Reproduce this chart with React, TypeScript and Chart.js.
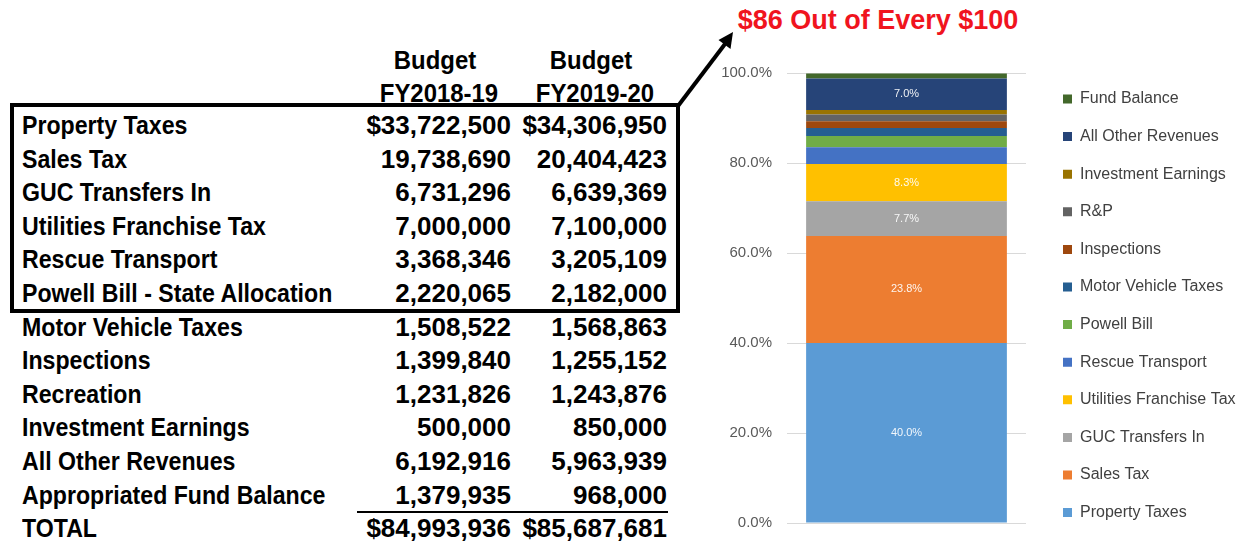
import React, { useEffect, useRef } from "react";
import { Chart, registerables } from "chart.js";

Chart.register(...registerables);

// ---------- chart data ----------
const categories = ["FY2019-20"];
const seriesNames = [
  "Property Taxes",
  "Sales Tax",
  "GUC Transfers In",
  "Utilities Franchise Tax",
  "Rescue Transport",
  "Powell Bill",
  "Motor Vehicle Taxes",
  "Inspections",
  "R&P",
  "Investment Earnings",
  "All Other Revenues",
  "Fund Balance",
];
const seriesValues = [40.0, 23.8, 7.7, 8.3, 3.7, 2.5, 1.8, 1.5, 1.5, 1.0, 7.0, 1.1];
const seriesColors = [
  "#5B9BD5",
  "#ED7D31",
  "#A5A5A5",
  "#FFC000",
  "#4472C4",
  "#70AD47",
  "#255E91",
  "#9E480E",
  "#636363",
  "#997300",
  "#264478",
  "#43682B",
];
const yTickValues = [0, 20, 40, 60, 80, 100];
const chartTitle = "$86 Out of Every $100";

// ---------- table data ----------
const headerTop = ["Budget", "Budget"];
const headerBottom = ["FY2018-19", "FY2019-20"];
const rowLabels = [
  "Property Taxes",
  "Sales Tax",
  "GUC Transfers In",
  "Utilities Franchise Tax",
  "Rescue Transport",
  "Powell Bill - State Allocation",
  "Motor Vehicle Taxes",
  "Inspections",
  "Recreation",
  "Investment Earnings",
  "All Other Revenues",
  "Appropriated Fund Balance",
  "TOTAL",
];
const budget1819 = [
  "$33,722,500",
  "19,738,690",
  "6,731,296",
  "7,000,000",
  "3,368,346",
  "2,220,065",
  "1,508,522",
  "1,399,840",
  "1,231,826",
  "500,000",
  "6,192,916",
  "1,379,935",
  "$84,993,936",
];
const budget1920 = [
  "$34,306,950",
  "20,404,423",
  "6,639,369",
  "7,100,000",
  "3,205,109",
  "2,182,000",
  "1,568,863",
  "1,255,152",
  "1,243,876",
  "850,000",
  "5,963,939",
  "968,000",
  "$85,687,681",
];

const FONT = "'Liberation Sans', Arial, sans-serif";
const CANVAS_W = 542;
const CANVAS_H = 544;
const CHART_RIGHT = 326;
const LEGEND_PAD = 21.6;
const LEGEND_BOX_X = 363;
const LEGEND_TOP = 66;
const LEGEND_BOTTOM = 545.6;

const legendShiftPlugin = {
  id: "legendShift",
  afterInit(chart: any) {
    const lg = chart.legend;
    if (lg && !lg.__patched) {
      const orig = lg.fit.bind(lg);
      lg.fit = function () {
        this.maxHeight = CANVAS_H;
        orig();
        this.width = CANVAS_W - CHART_RIGHT;
      };
      lg.__patched = true;
    }
  },
  afterLayout(chart: any) {
    const lg = chart.legend;
    if (lg) {
      lg.left = LEGEND_BOX_X - LEGEND_PAD;
      lg.top = LEGEND_TOP;
      lg.bottom = LEGEND_BOTTOM;
    }
  },
};

const dataLabelPlugin = {
  id: "segLabels",
  afterDatasetsDraw(chart: any) {
    const ctx = chart.ctx;
    ctx.save();
    ctx.font = `11px ${FONT}`;
    ctx.fillStyle = "rgba(255,255,255,0.92)";
    ctx.textAlign = "center";
    ctx.textBaseline = "middle";
    chart.data.datasets.forEach((ds: any, i: number) => {
      const meta = chart.getDatasetMeta(i);
      meta.data.forEach((el: any, j: number) => {
        const v = ds.data[j];
        if (v >= 5) {
          ctx.fillText(v.toFixed(1) + "%", el.x, (el.y + el.base) / 2);
        }
      });
    });
    ctx.restore();
  },
};

function BudgetChart() {
  const ref = useRef<HTMLCanvasElement | null>(null);
  useEffect(() => {
    if (!ref.current) return;
    const chart = new Chart(ref.current, {
      type: "bar",
      data: {
        labels: categories,
        datasets: seriesNames.map((name, i) => ({
          label: name,
          data: [seriesValues[i]],
          backgroundColor: seriesColors[i],
          borderWidth: 0,
          barPercentage: 0.84,
          categoryPercentage: 1,
        })),
      },
      options: {
        responsive: false,
        animation: false,
        layout: { padding: { top: 73, bottom: 21, left: 0, right: 0 } },
        plugins: {
          legend: {
            position: "right",
            reverse: true,
            labels: {
              boxWidth: 9,
              boxHeight: 9,
              padding: LEGEND_PAD,
              color: "#404040",
              font: { family: FONT, size: 16 },
            },
          },
          tooltip: { enabled: false },
          title: { display: false },
        },
        scales: {
          x: {
            stacked: true,
            display: false,
          },
          y: {
            stacked: true,
            min: 0,
            max: 100,
            afterBuildTicks: (scale: any) => {
              scale.ticks = yTickValues.map((v) => ({ value: v }));
            },
            afterFit: (scale: any) => {
              scale.width = 87;
              scale.paddingTop = 0;
              scale.paddingBottom = 0;
            },
            grid: { color: "#D9D9D9", drawTicks: false, lineWidth: 1 },
            border: { display: false },
            ticks: {
              padding: 15,
              color: "#595959",
              font: { family: FONT, size: 15 },
              callback: (v: any) => Number(v).toFixed(1) + "%",
            },
          },
        },
      },
      plugins: [legendShiftPlugin, dataLabelPlugin],
    });
    return () => chart.destroy();
  }, []);
  return <canvas ref={ref} width={CANVAS_W} height={CANVAS_H} style={{ display: "block" }} />;
}

export default function App() {
  const rowTop = (i: number) => 125 + i * 33.6 - 17;
  const textStyle: React.CSSProperties = {
    position: "absolute",
    fontFamily: FONT,
    fontWeight: 700,
    fontSize: 26,
    lineHeight: "34px",
    height: 34,
    color: "#000",
    whiteSpace: "nowrap",
  };
  const headerLefts = [375, 531];
  return (
    <div
      style={{
        position: "absolute",
        left: 0,
        top: 0,
        width: 1242,
        height: 544,
        overflow: "hidden",
        background: "#fff",
      }}
    >
      {/* headers */}
      {[0, 1].map((c) => (
        <React.Fragment key={"h" + c}>
          <div
            style={{
              ...textStyle,
              top: 60 - 17,
              left: headerLefts[c],
              width: 120,
              textAlign: "center",
              transform: "scaleX(0.92)",
              transformOrigin: "center",
            }}
          >
            {headerTop[c]}
          </div>
          <div
            style={{
              ...textStyle,
              top: 93 - 17,
              left: headerLefts[c],
              width: 120,
              textAlign: "center",
              transform: "scaleX(0.92)",
              transformOrigin: "center",
            }}
          >
            {headerBottom[c]}
          </div>
        </React.Fragment>
      ))}
      {rowLabels.map((lab, i) => (
        <React.Fragment key={lab}>
          <div
            style={{
              ...textStyle,
              top: rowTop(i),
              left: 22,
              transform: "scaleX(0.89)",
              transformOrigin: "left center",
            }}
          >
            {lab}
          </div>
          <div style={{ ...textStyle, top: rowTop(i), left: 311, width: 200, textAlign: "right" }}>{budget1819[i]}</div>
          <div style={{ ...textStyle, top: rowTop(i), left: 467, width: 200, textAlign: "right" }}>{budget1920[i]}</div>
        </React.Fragment>
      ))}
      {/* highlight box */}
      <div
        style={{
          position: "absolute",
          left: 10,
          top: 103,
          width: 670,
          height: 210,
          border: "4px solid #000",
          boxSizing: "border-box",
        }}
      />
      {/* total underline */}
      <div style={{ position: "absolute", left: 357, top: 511, width: 311, height: 2, background: "#000" }} />
      {/* arrow */}
      <svg width={1242} height={544} style={{ position: "absolute", left: 0, top: 0 }}>
        <line x1={678} y1={106} x2={725} y2={44} stroke="#000" strokeWidth={4} />
        <polygon points="733,32 730.5,49 718.5,40" fill="#000" />
      </svg>
      {/* chart title */}
      <div
        style={{
          position: "absolute",
          left: 700,
          top: 4,
          width: 356,
          textAlign: "center",
          fontFamily: FONT,
          fontWeight: 700,
          fontSize: 27,
          lineHeight: "32px",
          color: "#F0141E",
          whiteSpace: "nowrap",
        }}
      >
        {chartTitle}
      </div>
      <div style={{ position: "absolute", left: 700, top: 0, width: CANVAS_W, height: CANVAS_H }}>
        <BudgetChart />
      </div>
    </div>
  );
}
